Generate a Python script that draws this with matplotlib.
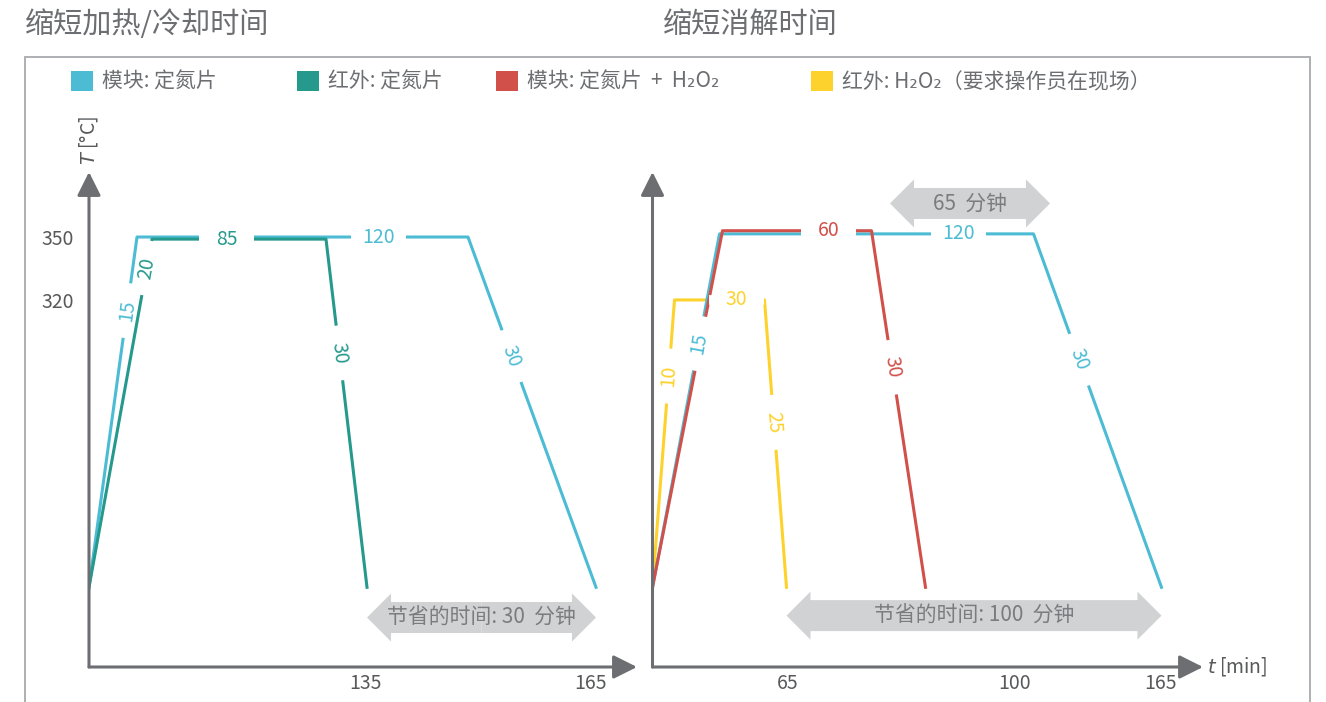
import numpy as np
import matplotlib
matplotlib.use("Agg")
import matplotlib.pyplot as plt
from matplotlib.patches import Patch, Rectangle

plt.rcParams['font.family'] = ['Noto Sans CJK SC', 'DejaVu Sans']
plt.rcParams['mathtext.fontset'] = 'dejavusans'

# colours
BLUE = '#4cbcd5'
TEAL = '#26998d'
RED = '#d2504a'
YELLOW = '#fdd22c'
AXIS = '#6d6e71'
TICK = '#58595b'
ARROW = '#d1d2d4'
ARROW_TXT = '#7b7c7f'

# legend
legend_labels = ['模块: 定氮片', '红外: 定氮片', '模块: 定氮片  +  H₂O₂',
                 '红外: H₂O₂（要求操作员在现场）']
legend_colors = [BLUE, TEAL, RED, YELLOW]

# left panel: corner points (schematic time position, temperature) and minutes per segment
left_blue_x = [0, 48, 379, 507]
left_blue_T = [183, 350, 350, 183]
left_blue_min = [15, 120, 30]
left_teal_x = [0, 63, 237, 278]
left_teal_T = [183, 349, 349, 183]
left_teal_min = [20, 85, 30]
left_ticks = [276, 501]
left_tick_labels = ['135', '165']

# right panel
right_yellow_x = [0, 22, 112, 134]
right_yellow_T = [183, 320, 320, 183]
right_yellow_min = [10, 30, 25]
right_blue_x = [0, 67, 381, 509]
right_blue_T = [183, 351.5, 351.5, 183]
right_blue_min = [15, 120, 30]
right_red_x = [0, 70, 219, 273]
right_red_T = [183, 353, 353, 183]
right_red_min = [None, 60, 30]
right_ticks = [135, 362, 508]
right_tick_labels = ['65', '100', '165']

# where along each segment the minute label sits (fraction)
left_blue_at = [0.79, 0.73, 0.34]
left_teal_at = [0.917, 0.43, 0.327]
right_yellow_at = [0.735, 0.69, 0.426]
right_blue_at = [0.69, 0.76, 0.356]
right_red_at = [None, 0.71, 0.383]

W, H = 1326, 702
fig = plt.figure(figsize=(W / 100, H / 100), dpi=100)


def fx(px):
    return px / W


def fy(py):
    return 1 - py / H


def setup(ax, xmax):
    ax.set_xlim(0, xmax)
    ax.set_ylim(145, 381)
    for s in ax.spines.values():
        s.set_visible(False)
    ax.patch.set_alpha(0)
    ax.tick_params(length=0, labelsize=14, labelcolor=TICK)
    ax.tick_params(axis='y', pad=11)
    ax.tick_params(axis='x', pad=4)
    arr = dict(arrowstyle='-|>,head_length=0.4,head_width=0.2', mutation_scale=36,
               lw=2.2, color=AXIS, shrinkA=0, shrinkB=0)
    ax.annotate('', xy=(xmax, 145), xytext=(0, 145), arrowprops=arr, annotation_clip=False)
    ax.annotate('', xy=(0, 381), xytext=(0, 145), arrowprops=arr, annotation_clip=False)


def labels(ax, x, T, mins, at, color):
    for i, (m, f) in enumerate(zip(mins, at)):
        if m is None:
            continue
        p0 = ax.transData.transform((x[i], T[i]))
        p1 = ax.transData.transform((x[i + 1], T[i + 1]))
        d = (p1 - p0) / np.hypot(*(p1 - p0))
        pm = p0 + f * (p1 - p0)
        ang = np.degrees(np.arctan2(d[1], d[0]))
        inv = ax.transData.inverted()
        g = inv.transform(np.array([pm - 27.5 * d, pm + 27.5 * d]))
        ax.plot(g[:, 0], g[:, 1], color='white', lw=7, solid_capstyle='butt', zorder=3)
        c = inv.transform(pm)
        ax.text(c[0], c[1], str(m), rotation=ang, rotation_mode='anchor', ha='center',
                va='center', color=color, fontsize=14, zorder=4)


def double_arrow(ax, x0, x1, y, text):
    xc = (x0 + x1) / 2
    for xe in (x0, x1):
        ax.annotate('', xy=(xe, y), xytext=(xc, y), annotation_clip=False,
                    arrowprops=dict(arrowstyle='simple,head_length=0.5,head_width=1.0,tail_width=0.645',
                                    mutation_scale=34.6, fc=ARROW, ec='none', lw=0,
                                    shrinkA=0, shrinkB=0))
    ax.text(xc, y, text, ha='center', va='center', fontsize=15, color=ARROW_TXT, zorder=5)


# left panel
ax1 = fig.add_axes([fx(89), fy(667), fx(637) - fx(89), fy(172) - fy(667)])
setup(ax1, 548)
ax1.set_xticks(left_ticks, left_tick_labels)
ax1.set_yticks([320, 350], ['320', '350'])
ax1.plot(left_blue_x, left_blue_T, color=BLUE, lw=2.2, zorder=2)
ax1.plot(left_teal_x, left_teal_T, color=TEAL, lw=2.2, zorder=2)
labels(ax1, left_blue_x, left_blue_T, left_blue_min, left_blue_at, BLUE)
labels(ax1, left_teal_x, left_teal_T, left_teal_min, left_teal_at, TEAL)
double_arrow(ax1, left_teal_x[-1], left_blue_x[-1], 168.6, '节省的时间: 30  分钟')
ax1.annotate('$T$ [°C]', xy=(0, 381), xytext=(0, 23), textcoords='offset points',
             rotation=90, ha='center', va='center', fontsize=14, color=TICK,
             annotation_clip=False)

# right panel
ax2 = fig.add_axes([fx(652.5), fy(667), fx(1203) - fx(652.5), fy(172) - fy(667)])
setup(ax2, 550.5)
ax2.set_xticks(right_ticks, right_tick_labels)
ax2.set_yticks([])
ax2.plot(right_yellow_x, right_yellow_T, color=YELLOW, lw=2.2, zorder=2)
ax2.plot(right_blue_x, right_blue_T, color=BLUE, lw=2.2, zorder=2)
ax2.plot(right_red_x, right_red_T, color=RED, lw=2.2, zorder=2)
labels(ax2, right_yellow_x, right_yellow_T, right_yellow_min, right_yellow_at, YELLOW)
labels(ax2, right_blue_x, right_blue_T, right_blue_min, right_blue_at, BLUE)
labels(ax2, right_red_x, right_red_T, right_red_min, right_red_at, RED)
double_arrow(ax2, right_yellow_x[-1], right_blue_x[-1], 169.5, '节省的时间: 100  分钟')
double_arrow(ax2, 237.5, 397.5, 366, '65  分钟')
ax2.annotate('$t$ [min]', xy=(550.5, 145), xytext=(3, 0), textcoords='offset points',
             ha='left', va='center', fontsize=14, color=TICK, annotation_clip=False)

# titles, frame, legend
fig.text(fx(25), fy(25), '缩短加热/冷却时间', fontsize=21, color=AXIS, va='center', ha='left')
fig.text(fx(663), fy(25), '缩短消解时间', fontsize=21, color=AXIS, va='center', ha='left')
fig.add_artist(Rectangle((fx(25), -0.1), fx(1310) - fx(25), fy(57) + 0.1,
                         transform=fig.transFigure, fill=False, ec='#a7a9ac', lw=1.3))

# one legend entry per series, placed along the top row
legend_left = [71, 297, 496, 811]
for lab, col, xl in zip(legend_labels, legend_colors, legend_left):
    fig.legend([Patch(facecolor=col, edgecolor='none')], [lab], loc='center left',
               bbox_to_anchor=(fx(xl), fy(82)), frameon=False, handlelength=1.05,
               handleheight=1.1, handletextpad=0.45, fontsize=15, labelcolor=AXIS,
               borderpad=0, borderaxespad=0)

fig.savefig('out.png', dpi=100)
